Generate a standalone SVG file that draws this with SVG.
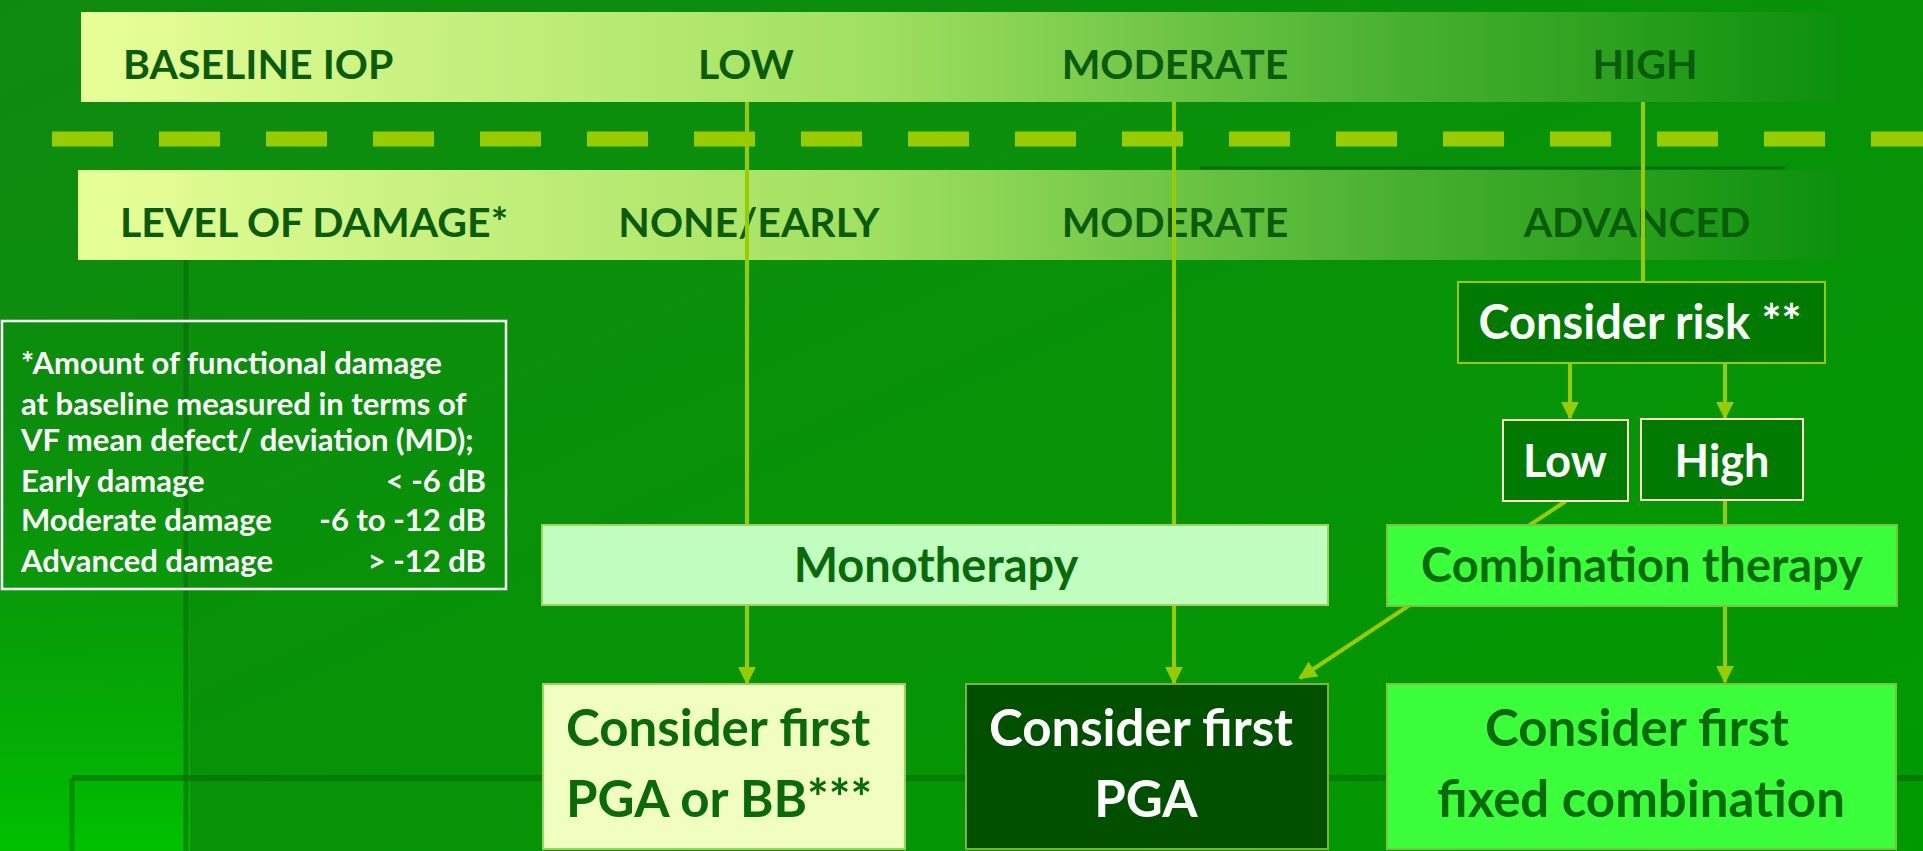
<svg xmlns="http://www.w3.org/2000/svg" width="1923" height="851" viewBox="0 0 1923 851">
<defs>
<linearGradient id="bg" x1="0" y1="0" x2="1" y2="1"><stop offset="0" stop-color="#0f8a10"/><stop offset="1" stop-color="#009a00"/></linearGradient>
<linearGradient id="bgl" x1="0" y1="0" x2="0" y2="1"><stop offset="0" stop-color="#0a9a0a" stop-opacity="0"/><stop offset="1" stop-color="#00c000"/></linearGradient>
<linearGradient id="band" x1="0" y1="0" x2="1" y2="0"><stop offset="0" stop-color="#e8ff98"/><stop offset="0.45" stop-color="#a0e060"/><stop offset="0.75" stop-color="#48b030"/><stop offset="1" stop-color="#0c900c"/></linearGradient>
<marker id="ah" viewBox="0 0 10 10" refX="9" refY="5" markerWidth="4.5" markerHeight="4.5" markerUnits="strokeWidth" orient="auto"><path d="M0,0 L10,5 L0,10 z" fill="#99cc00"/></marker>
</defs>
<style>
.bt{font-family:Lato,"Open Sans",sans-serif;font-weight:bold;font-size:41px;fill:#0a5c0a}
.w{font-family:Lato,"Open Sans",sans-serif;font-weight:bold;fill:#fff}
.g{font-family:Lato,"Open Sans",sans-serif;font-weight:bold;fill:#0a6a0a}
.n{font-family:Lato,"Open Sans",sans-serif;font-weight:bold;font-size:31px;fill:#fff}
.c{stroke:#99cc00;stroke-width:4;fill:none}
</style>
<rect width="1923" height="851" fill="url(#bg)"/>
<rect x="0" y="400" width="190" height="451" fill="url(#bgl)"/>
<line x1="186" y1="260" x2="186" y2="851" stroke="#0a6a0a" stroke-width="5" opacity="0.6"/>
<line x1="72" y1="778" x2="1923" y2="778" stroke="#0a6a0a" stroke-width="6" opacity="0.6"/>
<line x1="72" y1="778" x2="72" y2="851" stroke="#0a6a0a" stroke-width="5" opacity="0.5"/>
<line x1="1200" y1="168" x2="1785" y2="168" stroke="#0a5a0a" stroke-width="3" opacity="0.6"/>

<g id="band-iop">
<rect x="81" y="12" width="1761" height="90" fill="url(#band)"/>
<text class="bt" x="123" y="79">BASELINE IOP</text>
<text class="bt" x="746" y="79" text-anchor="middle">LOW</text>
<text class="bt" x="1175" y="79" text-anchor="middle">MODERATE</text>
<text class="bt" x="1645" y="79" text-anchor="middle">HIGH</text>
</g>
<line x1="52" y1="139" x2="1923" y2="139" stroke="#99cc00" stroke-width="15" stroke-dasharray="61 46"/>
<g id="band-damage">
<rect x="78" y="170" width="1762" height="90" fill="url(#band)"/>
<text class="bt" x="120" y="237">LEVEL OF DAMAGE*</text>
<text class="bt" x="749" y="237" text-anchor="middle">NONE/EARLY</text>
<text class="bt" x="1175" y="237" text-anchor="middle">MODERATE</text>
<text class="bt" x="1637" y="237" text-anchor="middle">ADVANCED</text>
</g>

<g id="connectors">
<line class="c" x1="747" y1="102" x2="747" y2="683" marker-end="url(#ah)"/>
<line class="c" x1="1174" y1="102" x2="1174" y2="683" marker-end="url(#ah)"/>
<line class="c" x1="1643" y1="102" x2="1643" y2="282"/>
<line class="c" x1="1570" y1="363" x2="1570" y2="418" marker-end="url(#ah)"/>
<line class="c" x1="1725" y1="363" x2="1725" y2="418" marker-end="url(#ah)"/>
<line class="c" x1="1725" y1="500" x2="1725" y2="682" marker-end="url(#ah)"/>
<line class="c" x1="1566" y1="501" x2="1300" y2="678" marker-end="url(#ah)"/>
</g>

<g id="note">
<rect x="2" y="321" width="504" height="268" fill="none" stroke="#fff" stroke-width="2.5"/>
<text class="n" x="21" y="374">*Amount of functional damage</text>
<text class="n" x="21" y="415">at baseline measured in terms of</text>
<text class="n" x="21" y="451">VF mean defect/ deviation (MD);</text>
<text class="n" x="21" y="492">Early damage</text>
<text class="n" x="486" y="492" text-anchor="end">&lt; -6 dB</text>
<text class="n" x="21" y="531">Moderate damage</text>
<text class="n" x="486" y="531" text-anchor="end">-6 to  -12 dB</text>
<text class="n" x="21" y="572">Advanced damage</text>
<text class="n" x="486" y="572" text-anchor="end">&gt; -12 dB</text>
</g>

<g id="consider-risk">
<rect x="1458" y="282" width="367" height="81" fill="#007a00" stroke="#99cc00" stroke-width="2"/>
<text class="w" x="1640" y="339" font-size="47" text-anchor="middle">Consider risk **</text>
</g>
<g id="low">
<rect x="1503" y="420" width="125" height="81" fill="#007a00" stroke="#ffffcc" stroke-width="2"/>
<text class="w" x="1565" y="477" font-size="45" text-anchor="middle">Low</text>
</g>
<g id="high">
<rect x="1641" y="419" width="162" height="81" fill="#007a00" stroke="#ffffcc" stroke-width="2"/>
<text class="w" x="1722" y="477" font-size="45" text-anchor="middle">High</text>
</g>
<g id="monotherapy">
<rect x="542" y="525" width="786" height="80" fill="#c0ffc0" stroke="#a0d060" stroke-width="2"/>
<text class="g" x="936" y="582" font-size="47" text-anchor="middle">Monotherapy</text>
</g>
<g id="combination">
<rect x="1387" y="525" width="510" height="81" fill="#3cff3c" stroke="#80c040" stroke-width="2"/>
<text class="g" x="1642" y="582" font-size="47" text-anchor="middle">Combination therapy</text>
</g>
<g id="pga-bb">
<rect x="543" y="684" width="362" height="165" fill="#f0ffc0" stroke="#a0d060" stroke-width="2"/>
<text class="g" x="566" y="746" font-size="51">Consider first</text>
<text class="g" x="566" y="817" font-size="51">PGA or BB***</text>
</g>
<g id="pga">
<rect x="966" y="684" width="362" height="165" fill="#005000" stroke="#80b040" stroke-width="2"/>
<text class="w" x="1141" y="746" font-size="51" text-anchor="middle">Consider first</text>
<text class="w" x="1146" y="817" font-size="51" text-anchor="middle">PGA</text>
</g>
<g id="fixed">
<rect x="1387" y="684" width="509" height="165" fill="#3cff3c" stroke="#80c040" stroke-width="2"/>
<text class="g" x="1637" y="746" font-size="51" text-anchor="middle">Consider first</text>
<text class="g" x="1641" y="817" font-size="51" text-anchor="middle">fixed combination</text>
</g>
</svg>
